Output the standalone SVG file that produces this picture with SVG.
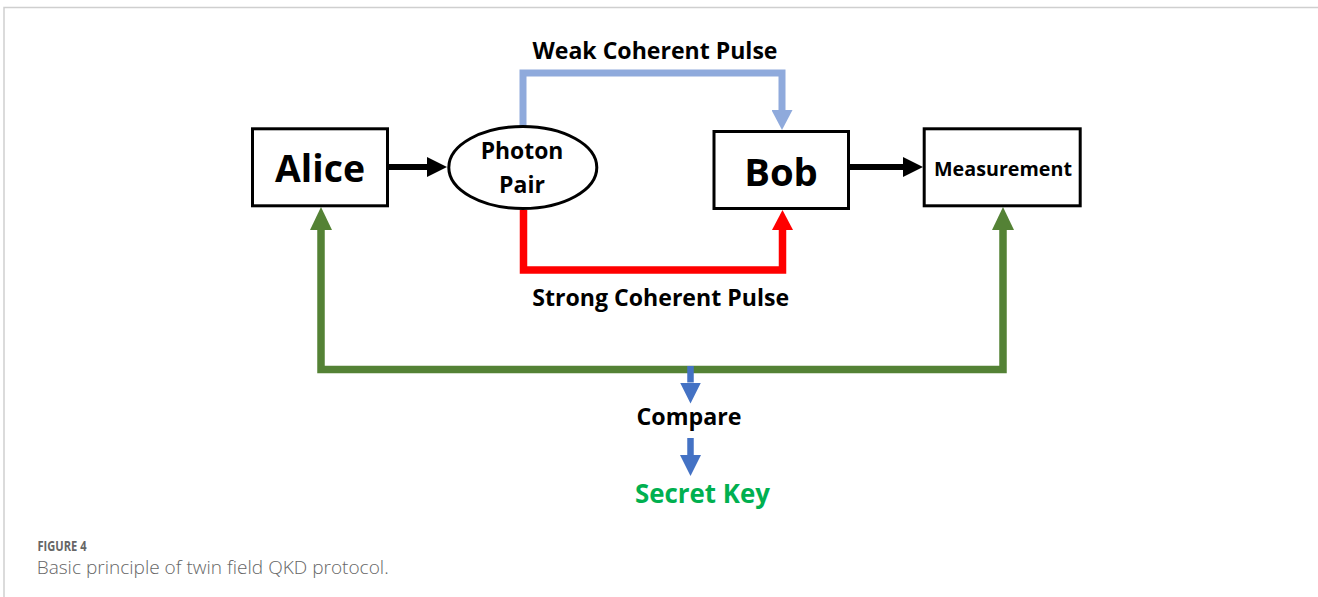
<svg xmlns="http://www.w3.org/2000/svg" width="1318" height="597" viewBox="0 0 1318 597">
<style>
.lbl{font-family:"Open Sans","Liberation Sans",sans-serif;font-weight:700;fill:#000;text-anchor:middle}
.box{fill:#fff;stroke:#000;stroke-width:3}
.cap{font-family:"Open Sans","Liberation Sans",sans-serif;fill:#666}
.c{fill:none;stroke-linejoin:miter}
</style>
<defs>
<marker id="hk" markerUnits="userSpaceOnUse" markerWidth="20" markerHeight="20" refX="0" refY="10" orient="auto"><path d="M0,0L20,10L0,20z" fill="#000"/></marker>
<marker id="hlb" markerUnits="userSpaceOnUse" markerWidth="20" markerHeight="21" refX="0" refY="10.5" orient="auto"><path d="M0,0L20,10.5L0,21z" fill="#8FAADC"/></marker>
<marker id="hr" markerUnits="userSpaceOnUse" markerWidth="20" markerHeight="21" refX="0" refY="10.5" orient="auto"><path d="M0,0L20,10.5L0,21z" fill="#FF0000"/></marker>
<marker id="hg" markerUnits="userSpaceOnUse" markerWidth="23" markerHeight="22" refX="0" refY="11" orient="auto-start-reverse"><path d="M0,0L23,11L0,22z" fill="#548235"/></marker>
<marker id="hb" markerUnits="userSpaceOnUse" markerWidth="21" markerHeight="21" refX="0" refY="10.5" orient="auto"><path d="M0,0L21,10.5L0,21z" fill="#4472C4"/></marker>
</defs>
<rect width="1318" height="597" fill="#fff"/>
<path d="M4,597V7.5H1318" fill="none" stroke="#cfcfcf" stroke-width="1.5"/>
<g id="connectors">
<line class="c" x1="389" y1="167" x2="427" y2="167" stroke="#000" stroke-width="6" marker-end="url(#hk)"/>
<line class="c" x1="850" y1="167" x2="903" y2="167" stroke="#000" stroke-width="6" marker-end="url(#hk)"/>
<path class="c" d="M523,126V73H782V110" stroke="#8FAADC" stroke-width="7" marker-end="url(#hlb)"/>
<path class="c" d="M523.5,210V270H782.5V230" stroke="#FF0000" stroke-width="7.5" marker-end="url(#hr)"/>
<path class="c" d="M321,230V369.5H1003V230" stroke="#548235" stroke-width="7.5" marker-start="url(#hg)" marker-end="url(#hg)"/>
<line class="c" x1="690.5" y1="366" x2="690.5" y2="382.5" stroke="#4472C4" stroke-width="6.5" marker-end="url(#hb)"/>
<line class="c" x1="690.5" y1="438" x2="690.5" y2="455" stroke="#4472C4" stroke-width="6.5" marker-end="url(#hb)"/>
</g>
<g id="weak-label"><text class="lbl" x="655" y="59.3" font-size="23" textLength="245" lengthAdjust="spacingAndGlyphs">Weak Coherent Pulse</text></g>
<g id="alice">
<rect class="box" x="252.5" y="128.8" width="135" height="77"/>
<text class="lbl" x="320" y="181.7" font-size="38" textLength="90" lengthAdjust="spacingAndGlyphs">Alice</text>
</g>
<g id="photon-pair">
<ellipse cx="522.8" cy="167.5" rx="74" ry="41" fill="#fff" stroke="#000" stroke-width="3"/>
<text class="lbl" x="522" y="159.3" font-size="23" textLength="82.7" lengthAdjust="spacingAndGlyphs">Photon</text>
<text class="lbl" x="522" y="192.7" font-size="23">Pair</text>
</g>
<g id="bob">
<rect class="box" x="714" y="131.5" width="134.5" height="77"/>
<text class="lbl" x="781" y="185.7" font-size="38" textLength="73.7" lengthAdjust="spacingAndGlyphs">Bob</text>
</g>
<g id="measurement">
<rect class="box" x="924.2" y="128.8" width="156" height="77"/>
<text class="lbl" x="1003" y="176" font-size="20" textLength="138" lengthAdjust="spacingAndGlyphs">Measurement</text>
</g>
<g id="strong-label"><text class="lbl" x="660.7" y="306" font-size="23" textLength="256.7" lengthAdjust="spacingAndGlyphs">Strong Coherent Pulse</text></g>
<g id="compare"><text class="lbl" x="689" y="425" font-size="23.5" textLength="105" lengthAdjust="spacingAndGlyphs">Compare</text></g>
<g id="secret-key"><text class="lbl" x="702.5" y="502.5" font-size="27.5" style="fill:#00B050" textLength="135" lengthAdjust="spacingAndGlyphs">Secret Key</text></g>
<g id="caption">
<text class="cap" x="37.5" y="551" font-size="15" font-weight="700" textLength="49" lengthAdjust="spacingAndGlyphs">FIGURE 4</text>
<text class="cap" x="36.7" y="574" font-size="18.5" font-weight="300" textLength="352" lengthAdjust="spacingAndGlyphs">Basic principle of twin field QKD protocol.</text>
</g>
</svg>
